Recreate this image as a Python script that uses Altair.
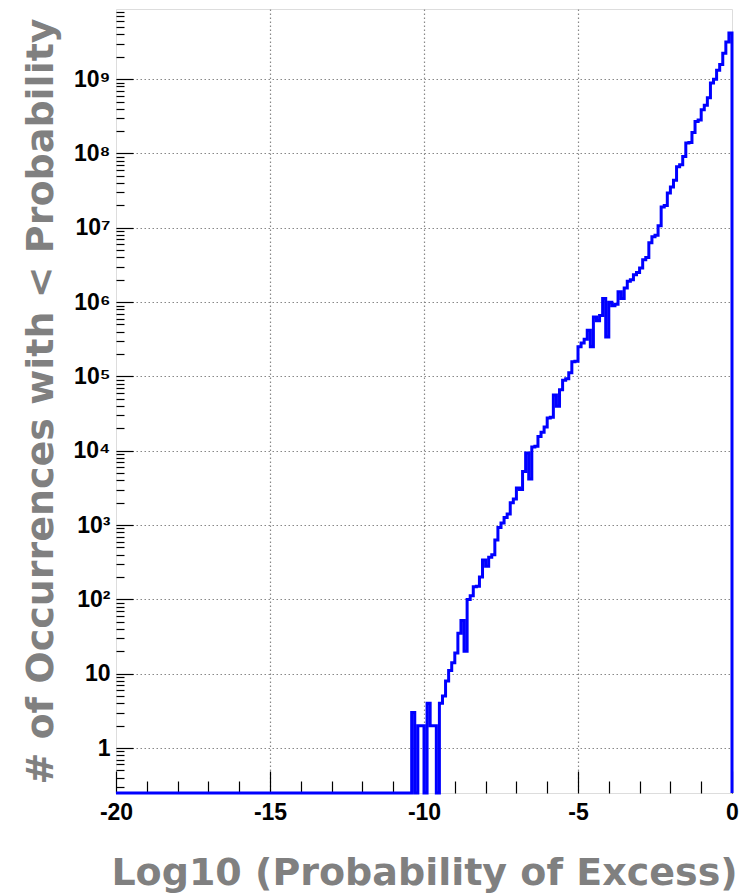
import altair as alt
import pandas as pd

# ---------------- data ----------------
BIN_START = -20.0
BIN_WIDTH = 0.1
N_EMPTY = 95  # bins from -20.0 up to -10.5 hold no entries

# counts per bin, bins starting at -10.5 (width 0.1) up to 0
counts_tail = [
    0, 3, 0, 2, 2, 0, 4, 2, 2, 0,                                         # -10.5 .. -9.6
    4, 5, 8, 11, 14, 19, 35, 52, 20, 100,                                 # -9.5 .. -8.6
    112, 148, 150, 200, 340, 280, 370, 400, 630, 930,                     # -8.5 .. -7.6
    1070, 1260, 1410, 2000, 2240, 3160, 3020, 5250, 9330, 4170,           # -7.5 .. -6.6
    11200, 11500, 15500, 17800, 20900, 27500, 28200, 56200, 39800, 66100, # -6.5 .. -5.6
    89100, 93300, 1.12e5, 1.58e5, 1.6e5, 2.51e5, 2.82e5, 3.16e5, 4.17e5, 2.51e5,  # -5.5 .. -4.6
    6.31e5, 5.62e5, 6.61e5, 1.12e6, 3.39e5, 1.0e6, 8.91e5, 9.33e5, 1.38e6, 1.12e6, # -4.5 .. -3.6
    1.55e6, 1.91e6, 2.0e6, 2.34e6, 2.51e6, 2.88e6, 3.72e6, 3.98e6, 6.31e6, 7.59e6, # -3.5 .. -2.6
    7.94e6, 1.07e7, 1.91e7, 2.0e7, 2.95e7, 3.55e7, 4.37e7, 6.61e7, 7.08e7, 9.12e7, # -2.5 .. -1.6
    1.38e8, 1.41e8, 1.91e8, 2.69e8, 2.82e8, 3.89e8, 4.47e8, 5.62e8, 8.91e8, 1.0e9, # -1.5 .. -0.6
    1.32e9, 1.58e9, 2.24e9, 3.16e9, 4.17e9,                                # -0.5 .. -0.1
]

x_label_values = [-20, -15, -10, -5, 0]
x_grid_values = [-15, -10, -5]
x_minor_values = [-19, -18, -17, -16, -14, -13, -12, -11, -9, -8, -7, -6, -4, -3, -2, -1]
y_decades = [1, 10, 1e2, 1e3, 1e4, 1e5, 1e6, 1e7, 1e8, 1e9]
y_minor_values = ([0.3, 0.4, 0.5, 0.6, 0.7, 0.8, 0.9]
                  + [m * 10 ** e for e in range(0, 10) for m in range(2, 10) if m * 10 ** e < 8.8e9])

X_TITLE = "Log10 (Probability of Excess)"
Y_TITLE = "# of Occurrences with < Probability"

# ---------------- layout ----------------
W, H = 616, 784
Y_MIN, Y_MAX = 0.248, 8.8e9
BLUE = "#0000ff"
GRAY = "#808080"

counts = [0] * N_EMPTY + counts_tail
rows = []
for k, c in enumerate(counts):
    rows.append({"i": k, "x": BIN_START + k * BIN_WIDTH, "y": max(c, Y_MIN)})
rows.append({"i": len(counts), "x": 0.0, "y": max(counts[-1], Y_MIN)})
rows.append({"i": len(counts) + 1, "x": 0.0, "y": Y_MIN})
df = pd.DataFrame(rows)

xs = alt.Scale(domain=[-20, 0], nice=False, zero=False)
ys = alt.Scale(type="log", domain=[Y_MIN, Y_MAX], nice=False)

sup = "['','','\u00b2','\u00b3','\u2074','\u2075','\u2076','\u2077','\u2078','\u2079']"
y_label_expr = ("datum.value < 5 ? '1\u2008' : datum.value < 50 ? '10\u2008' : '10' + "
                + sup + "[round(log(datum.value)/LN10)]")

line = alt.Chart(df).mark_line(
    interpolate="step-after", color=BLUE, strokeWidth=3
).encode(
    x=alt.X("x:Q", scale=xs, axis=alt.Axis(
        orient="bottom", values=x_label_values, labelExpr="'' + datum.value",
        title=X_TITLE, titleFont="DejaVu Sans", titleFontSize=38, titleFontWeight="bold",
        titleColor=GRAY, titleX=W / 2, titleY=91, titleAlign="center",
        titleBaseline="alphabetic",
        labelFont="Liberation Sans", labelFontSize=23, labelFontWeight="bold",
        labelColor="black", labelPadding=8, ticks=False, domain=False, grid=False,
        labelFlush=False, labelOverlap=False,
    )),
    y=alt.Y("y:Q", scale=ys, axis=alt.Axis(
        orient="left", values=y_decades, labelExpr=y_label_expr,
        title=Y_TITLE, titleFont="DejaVu Sans", titleFontSize=38, titleFontWeight="bold",
        titleColor=GRAY, titleX=-64, titleY=H / 2, titleAngle=270, titleAlign="center",
        titleBaseline="alphabetic",
        labelFont="Liberation Sans", labelFontSize=23, labelFontWeight="bold",
        labelColor="black", labelPadding=6, ticks=False, domain=False,
        grid=True, gridDash=[1.5, 2.5], gridColor="#888888", gridWidth=1.2,
        labelFlush=False, labelOverlap=False,
    )),
    order=alt.Order("i:Q"),
)

xgrid = alt.Chart(df).mark_point(opacity=0).encode(
    x=alt.X("x:Q", scale=xs, axis=alt.Axis(
        orient="bottom", values=x_grid_values, labels=False, ticks=False, domain=False,
        grid=True, gridDash=[1.5, 2.5], gridColor="#888888", gridWidth=1.2, title=None)),
    y=alt.Y("y:Q", scale=ys, axis=None),
)

major = alt.Chart(df).mark_point(opacity=0).encode(
    x=alt.X("x:Q", scale=xs, axis=alt.Axis(
        orient="top", offset=-H, values=x_label_values, labels=False, ticks=True,
        tickSize=22, tickColor="black", tickWidth=1.2, domain=False, grid=False, title=None)),
    y=alt.Y("y:Q", scale=ys, axis=alt.Axis(
        orient="right", offset=-W, values=y_decades, labels=False, ticks=True,
        tickSize=17, tickColor="black", tickWidth=1.2, domain=False, grid=False, title=None)),
)

minor = alt.Chart(df).mark_point(opacity=0).encode(
    x=alt.X("x:Q", scale=xs, axis=alt.Axis(
        orient="top", offset=-H, values=x_minor_values, labels=False, ticks=True,
        tickSize=12, tickColor="black", tickWidth=1.2, domain=False, grid=False, title=None)),
    y=alt.Y("y:Q", scale=ys, axis=alt.Axis(
        orient="right", offset=-W, values=y_minor_values, labels=False, ticks=True,
        tickSize=8, tickColor="black", tickWidth=1.2, domain=False, grid=False, title=None)),
)

chart = alt.layer(xgrid, major, minor, line).resolve_axis(
    x="independent", y="independent"
).properties(
    width=W, height=H,
    autosize=alt.AutoSizeParams(type="none"),
    padding={"left": 108, "top": 1, "right": 8, "bottom": 104},
).configure_view(
    stroke="#222222", strokeWidth=1.5
).configure(background="white")

chart.save("out.html", embed_options={"renderer": "svg", "actions": False})
